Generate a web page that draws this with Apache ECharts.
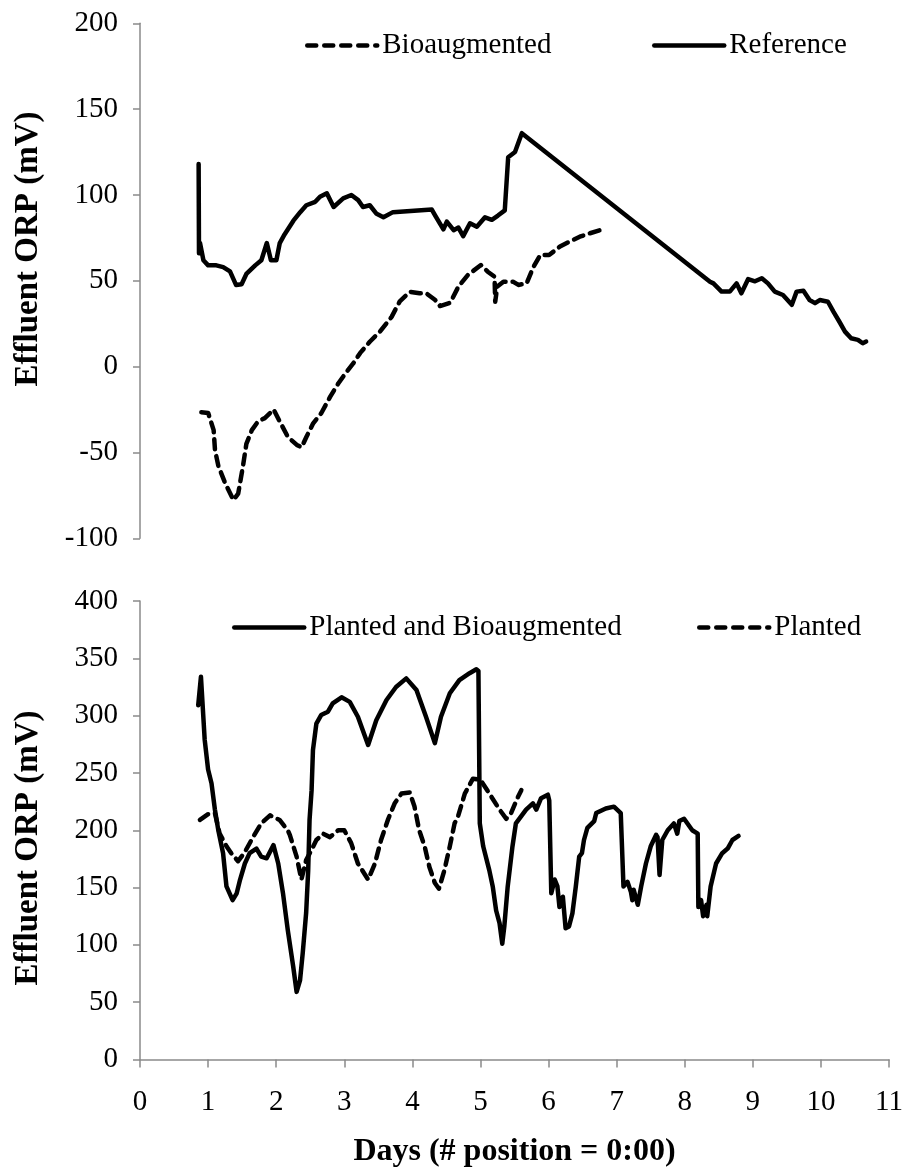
<!DOCTYPE html>
<html>
<head>
<meta charset="utf-8">
<script src="https://cdn.jsdelivr.net/npm/echarts@6/dist/echarts.min.js"></script>
<style>
  html, body { margin: 0; padding: 0; background: #fff; }
  #chart { width: 906px; height: 1170px; }
</style>
</head>
<body>
<div id="chart"></div>
<script>
// ---- Data (Days, Effluent ORP mV) ----
const referenceData = [
  [0.86,118],[0.865,66],[0.88,72],[0.93,62],[1.0,59],[1.12,59],[1.22,58],[1.32,55.5],[1.41,47.5],[1.49,48],
  [1.56,54],[1.69,59],[1.78,62],[1.86,72],[1.92,62],[2.0,62],[2.05,72],[2.12,77],[2.25,85],[2.35,90],
  [2.44,94],[2.57,96],[2.64,99],[2.74,101],[2.84,93],[2.98,98],[3.1,100],[3.2,97],[3.27,93],[3.37,94],
  [3.47,89],[3.57,87],[3.71,90],[4.28,91.5],[4.33,88],[4.45,80],[4.5,84.5],[4.6,79.5],[4.67,81],[4.74,76],
  [4.84,83.5],[4.94,81.5],[5.06,87],[5.16,85.5],[5.25,88],[5.35,91],[5.4,122],[5.5,125],[5.6,136],
  [8.36,49.5],[8.41,48.5],[8.53,43.7],[8.65,43.7],[8.75,48.5],[8.82,42.7],[8.92,51],[9.02,49.7],[9.12,51.5],
  [9.21,48.5],[9.31,43.7],[9.43,41.7],[9.56,36],[9.63,43.7],[9.73,44.2],[9.82,38.8],[9.9,37],[9.97,38.8],
  [10.09,37.8],[10.17,32],[10.26,26],[10.34,20.4],[10.43,16.5],[10.53,15.6],[10.6,13.6],[10.65,14.6]
];
const bioaugmentedData = [
  [0.9,-26.6],[1.0,-27],[1.08,-37],[1.1,-48.6],[1.15,-58],[1.25,-68],[1.37,-77.7],[1.44,-74],[1.51,-58],
  [1.56,-45],[1.64,-37],[1.73,-32],[1.83,-30],[1.96,-25],[2.05,-32],[2.17,-41],[2.3,-45.6],[2.37,-47],
  [2.44,-41],[2.54,-33],[2.66,-27],[2.79,-17.5],[2.91,-9.7],[3.03,-3],[3.13,2],[3.23,8],[3.37,14.5],
  [3.52,20.4],[3.69,29],[3.81,38],[3.96,43.6],[4.1,42.7],[4.2,42.7],[4.33,38.8],[4.4,35.3],[4.55,37.2],
  [4.67,46.6],[4.81,53.4],[5.0,59.2],[5.1,55.3],[5.2,52.4],[5.21,37.8],[5.24,46.6],[5.33,49.5],[5.47,49.5],
  [5.55,47.6],[5.67,48.5],[5.77,58],[5.87,65],[6.0,65],[6.16,70],[6.3,72.8],[6.45,75.7],[6.6,77.7],[6.79,80]
];
const plantedBioData = [
  [0.855,309],[0.895,334],[0.95,279],[1.0,253],[1.05,241],[1.1,218],[1.15,200],[1.22,180],[1.27,151],
  [1.36,139],[1.42,145],[1.47,157],[1.54,171],[1.61,180],[1.71,184],[1.78,177],[1.86,175.5],[1.96,187],
  [2.03,171],[2.1,145],[2.17,113],[2.25,81],[2.3,59],[2.35,69],[2.39,93],[2.44,128],[2.47,165],[2.49,209],
  [2.52,235],[2.54,270],[2.59,293],[2.66,300.5],[2.76,303.4],[2.83,310.7],[2.96,316],[3.08,312],[3.2,299],
  [3.35,274.4],[3.47,296],[3.62,313.6],[3.76,325],[3.91,332.5],[4.06,322.4],[4.2,299],[4.33,276],[4.42,299],
  [4.55,319.5],[4.69,331],[4.84,337],[4.94,340.4],[4.97,339],[4.99,206],[5.04,186],[5.13,165],[5.18,151],
  [5.23,130],[5.28,119],[5.32,101],[5.35,116],[5.4,151],[5.47,186],[5.52,206],[5.67,218],[5.77,223.5],
  [5.82,218],[5.89,228],[5.99,231],[6.01,226],[6.04,145],[6.09,157],[6.13,151],[6.16,133],[6.21,142],
  [6.25,114.5],[6.3,116],[6.35,127.5],[6.4,151],[6.45,177],[6.49,180],[6.52,191.5],[6.57,202],[6.67,208],
  [6.7,215],[6.84,219],[6.96,220.6],[7.06,215],[7.1,151],[7.16,155],[7.21,146],[7.23,139],[7.25,148],
  [7.31,135],[7.36,151],[7.43,171],[7.5,186],[7.58,196],[7.6,194],[7.63,161],[7.67,191.5],[7.75,200],
  [7.84,206],[7.89,197],[7.92,208],[7.99,210],[8.11,200],[8.19,197],[8.2,133],[8.24,139],[8.27,125],
  [8.32,135],[8.33,125],[8.38,151],[8.46,171],[8.55,180],[8.63,184],[8.7,191.5],[8.79,195]
];
const plantedData = [
  [0.88,209],[1.0,214],[1.1,215],[1.17,197],[1.27,186],[1.34,180],[1.44,173],[1.54,181],[1.66,194],
  [1.78,206],[1.91,213],[2.05,209],[2.17,200],[2.2,196],[2.3,177],[2.37,157],[2.44,174],[2.52,183],
  [2.59,191.5],[2.69,197],[2.79,194],[2.91,200],[3.0,200],[3.1,189],[3.2,171],[3.35,157],[3.45,171],
  [3.54,191.5],[3.64,209],[3.74,223.5],[3.84,232],[3.96,233],[4.03,221],[4.1,200],[4.18,186],[4.25,168],
  [4.33,154],[4.39,149],[4.47,165],[4.55,186],[4.62,206],[4.67,212],[4.77,232],[4.89,245],[5.0,244],
  [5.13,232],[5.28,218],[5.38,210],[5.45,215],[5.55,229],[5.6,235]
];
const xTicks = { min: 0, max: 11, interval: 1 };
const topYTicks = { min: -100, max: 200, interval: 50 };
const bottomYTicks = { min: 0, max: 400, interval: 50 };
const yTitle = 'Effluent ORP (mV)';
const xTitle = 'Days (# position = 0:00)';

// ---- Styling ----
const FONT = '"Liberation Serif", "Times New Roman", serif';
const AXIS_GRAY = '#8a8a8a';
const DASH = [10, 7];
const LINE_W = 4.5;

const chart = echarts.init(document.getElementById('chart'), null, { renderer: 'canvas' });

function yAxis(gridIndex, ticks) {
  return {
    type: 'value', gridIndex: gridIndex,
    min: ticks.min, max: ticks.max, interval: ticks.interval,
    axisLine: { show: true, lineStyle: { color: AXIS_GRAY, width: 1.5 } },
    axisTick: { show: true, length: 7, lineStyle: { color: AXIS_GRAY, width: 1.5 } },
    axisLabel: { color: '#000', fontFamily: FONT, fontSize: 29, margin: 22 },
    splitLine: { show: false }
  };
}
function legendItem(name, left, top, dashed) {
  return {
    data: [name], left: left, top: top,
    itemWidth: 70, itemHeight: 14,
    textStyle: { fontFamily: FONT, fontSize: 29, color: '#000' },
    itemStyle: { opacity: 0 },
    lineStyle: { width: LINE_W, color: '#000', type: dashed ? [9, 8] : 'solid', cap: 'round' },
    selectedMode: false
  };
}
function lineSeries(name, data, xi, yi, dashed) {
  return {
    name: name, type: 'line', data: data,
    xAxisIndex: xi, yAxisIndex: yi,
    symbol: 'none', showSymbol: false, animation: false,
    lineStyle: { color: '#000', width: LINE_W, type: dashed ? DASH : 'solid', cap: 'round', join: 'round' },
    itemStyle: { color: '#000' }
  };
}

const option = {
  backgroundColor: '#fff',
  animation: false,
  grid: [
    { left: 140, width: 750, top: 23.3, height: 515, containLabel: false },
    { left: 140, width: 750, top: 601, height: 458.5, containLabel: false }
  ],
  xAxis: [
    { type: 'value', gridIndex: 0, min: xTicks.min, max: xTicks.max, interval: xTicks.interval, show: false },
    {
      type: 'value', gridIndex: 1, min: xTicks.min, max: xTicks.max, interval: xTicks.interval,
      axisLine: { show: true, onZero: false, lineStyle: { color: AXIS_GRAY, width: 1.5 } },
      axisTick: { show: true, length: 8, lineStyle: { color: AXIS_GRAY, width: 1.5 } },
      axisLabel: { color: '#000', fontFamily: FONT, fontSize: 29, margin: 28 },
      splitLine: { show: false },
      name: xTitle, nameLocation: 'middle', nameGap: 76,
      nameTextStyle: { fontFamily: FONT, fontSize: 32, fontWeight: 'bold', color: '#000' }
    }
  ],
  yAxis: [ yAxis(0, topYTicks), yAxis(1, bottomYTicks) ],
  legend: [
    legendItem('Bioaugmented', 300, 26, true),
    legendItem('Reference', 647, 26, false),
    legendItem('Planted and Bioaugmented', 227, 608, false),
    legendItem('Planted', 692, 608, true)
  ],
  graphic: [
    { type: 'text', x: 28, y: 249, rotation: Math.PI / 2,
      style: { text: yTitle, font: 'bold 33px ' + FONT, fill: '#000', textAlign: 'center', textVerticalAlign: 'middle' } },
    { type: 'text', x: 28, y: 848, rotation: Math.PI / 2,
      style: { text: yTitle, font: 'bold 33px ' + FONT, fill: '#000', textAlign: 'center', textVerticalAlign: 'middle' } }
  ],
  series: [
    lineSeries('Bioaugmented', bioaugmentedData, 0, 0, true),
    lineSeries('Reference', referenceData, 0, 0, false),
    lineSeries('Planted and Bioaugmented', plantedBioData, 1, 1, false),
    lineSeries('Planted', plantedData, 1, 1, true)
  ]
};
chart.setOption(option);
</script>
</body>
</html>
